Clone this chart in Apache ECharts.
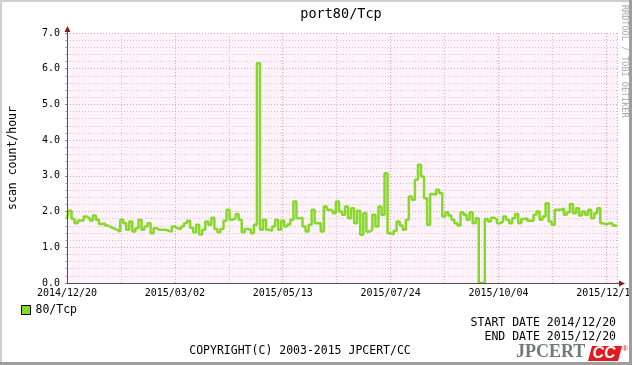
<!DOCTYPE html>
<html>
<head>
<meta charset="utf-8">
<script src="https://cdn.jsdelivr.net/npm/echarts@6/dist/echarts.min.js"></script>
<style>html,body{margin:0;padding:0;background:#fff;}#c{width:632px;height:365px;}</style>
</head>
<body>
<div id="c"></div>
<script>
// ---- data ----
const titleText = 'port80/Tcp';
const yAxisName = 'scan count/hour';
const seriesName = '80/Tcp';
const stepDays = 2; // sample spacing in days
const xTickLabels = ['2014/12/20', '2015/03/02', '2015/05/13', '2015/07/24', '2015/10/04', '2015/12/14'];
const xTickSpacingDays = 71;
const yTicks = ['0.0', '1.0', '2.0', '3.0', '4.0', '5.0', '6.0', '7.0'];
const values = [
  1.81, 2.02, 1.79, 1.67, 1.75, 1.75, 1.86, 1.81, 1.75, 1.89,
  1.77, 1.65, 1.67, 1.61, 1.56, 1.53, 1.49, 1.44, 1.77, 1.67,
  1.49, 1.72, 1.44, 1.53, 1.77, 1.49, 1.58, 1.67, 1.39, 1.53,
  1.49, 1.49, 1.49, 1.46, 1.44, 1.58, 1.53, 1.51, 1.58, 1.67,
  1.74, 1.55, 1.42, 1.63, 1.36, 1.49, 1.72, 1.63, 1.83, 1.51,
  1.42, 1.51, 1.74, 2.05, 1.77, 1.81, 1.93, 1.77, 1.42, 1.51,
  1.50, 1.39, 1.63, 6.15, 1.49, 1.77, 1.49, 1.46, 1.58, 1.77,
  1.49, 1.74, 1.58, 1.64, 1.77, 2.28, 1.81, 1.83, 1.58, 1.44,
  1.63, 2.05, 1.67, 1.67, 1.44, 2.14, 2.05, 2.02, 1.95, 2.28,
  2.00, 1.91, 2.14, 1.81, 2.09, 1.67, 2.02, 1.35, 1.95, 1.44,
  1.49, 1.91, 1.58, 2.14, 1.91, 3.07, 1.39, 1.36, 1.46, 1.72,
  1.61, 1.49, 1.77, 2.42, 2.33, 2.89, 3.31, 2.98, 2.37, 1.63,
  2.49, 2.47, 2.61, 2.51, 1.86, 1.98, 1.89, 1.77, 1.67, 1.61,
  1.98, 1.91, 1.77, 1.98, 1.67, 1.81, 0.00, 0.00, 1.79, 1.72,
  1.83, 1.79, 1.67, 1.72, 1.86, 1.77, 1.67, 1.81, 1.93, 1.67,
  1.79, 1.81, 1.74, 1.74, 1.91, 2.00, 1.77, 1.86, 2.23, 1.72,
  1.63, 2.05, 2.05, 2.09, 1.91, 1.98, 2.21, 1.95, 2.09, 1.89,
  2.00, 1.91, 2.05, 1.81, 1.95, 2.09, 1.67, 1.64, 1.67, 1.67,
  1.61, 1.58
];
const startDate = '2014/12/20';
const endDate = '2015/12/20';
const copyright = 'COPYRIGHT(C) 2003-2015 JPCERT/CC';
const sideText = 'RRDTOOL / TOBI OETIKER';

// ---- chart ----
const mono = 'DejaVu Sans Mono';
const lineColor = '#88D82A';
const pts = values.map((v, i) => [i * stepDays, v]);

const chart = echarts.init(document.getElementById('c'), null, {renderer: 'canvas'});
chart.setOption({
  animation: false,
  backgroundColor: '#ffffff',
  grid: {left: 67, top: 33, width: 550, height: 250, show: true, backgroundColor: '#FFF3FB', borderWidth: 0,
    containLabel: false, outerBoundsMode: 'none'},
  legend: {
    left: 16, top: 299, orient: 'horizontal',
    itemWidth: 9, itemHeight: 9, itemGap: 10,
    icon: 'rect',
    textStyle: {fontFamily: mono, fontSize: 11.5, color: '#000'},
    itemStyle: {borderColor: '#000', borderWidth: 1, color: lineColor},
    data: [seriesName]
  },
  xAxis: {
    type: 'value', min: 0, max: 362, interval: xTickSpacingDays,
    axisLine: {show: true, lineStyle: {color: '#505050', width: 1}},
    axisTick: {show: false},
    axisLabel: {
      showMaxLabel: false, hideOverlap: false, fontFamily: mono, fontSize: 10, color: '#000', margin: 5,
      formatter: v => xTickLabels[Math.round(v / xTickSpacingDays)] || ''
    },
    splitLine: {show: true, lineStyle: {color: '#E6A0B4', type: [1, 2], width: 1}},
    minorTick: {show: false, splitNumber: 2},
    minorSplitLine: {show: true, lineStyle: {color: '#D4BCC8', type: [1, 2], width: 1}}
  },
  yAxis: {
    type: 'value', min: 0, max: 7, interval: 1,
    name: yAxisName, nameLocation: 'middle', nameGap: 48, nameRotate: 90,
    nameTextStyle: {fontFamily: mono, fontSize: 11.5, color: '#000'},
    axisLine: {show: true, lineStyle: {color: '#505050', width: 1}},
    axisTick: {show: true, length: 2, lineStyle: {color: '#C07080'}},
    minorTick: {show: true, splitNumber: 5, length: 2, lineStyle: {color: '#C8B0B8'}},
    axisLabel: {fontFamily: mono, fontSize: 10, color: '#000', margin: 7,
      formatter: v => yTicks[Math.round(v)]},
    splitLine: {show: true, lineStyle: {color: '#E6A0B4', type: [1, 2], width: 1}},
    minorSplitLine: {show: true, lineStyle: {color: '#DDBFCD', type: [1, 2], width: 1}}
  },
  series: [{
    name: seriesName, type: 'line', step: 'middle', data: pts,
    showSymbol: false, symbol: 'none',
    lineStyle: {color: lineColor, width: 2.5},
    itemStyle: {color: lineColor},
    z: 5
  }],
  graphic: [
    {type: 'text', x: 341, y: 14, style: {text: titleText, font: '13.5px "DejaVu Sans Mono"', fill: '#000', align: 'center', verticalAlign: 'middle'}},
    {type: 'text', x: 624, y: 5, rotation: -Math.PI / 2, style: {text: sideText, font: '8.5px "DejaVu Sans Mono"', fill: '#A8A8A8', align: 'left', verticalAlign: 'middle'}},
    // axis arrows
    {type: 'line', shape: {x1: 67.5, y1: 283, x2: 67.5, y2: 29}, style: {stroke: '#505050', lineWidth: 1}, z: 10},
    {type: 'polygon', shape: {points: [[64.5, 32], [70.5, 32], [67.5, 26]]}, style: {fill: '#8B1A1A'}, z: 10},
    {type: 'line', shape: {x1: 67, y1: 283.5, x2: 621, y2: 283.5}, style: {stroke: '#505050', lineWidth: 1}, z: 10},
    {type: 'polygon', shape: {points: [[619, 280.5], [619, 286.5], [625, 283.5]]}, style: {fill: '#8B1A1A'}, z: 10},
    // bottom texts
    {type: 'text', x: 616, y: 323, style: {text: 'START DATE ' + startDate, font: '11.5px "DejaVu Sans Mono"', fill: '#000', align: 'right', verticalAlign: 'middle'}},
    {type: 'text', x: 616, y: 337, style: {text: 'END DATE ' + endDate, font: '11.5px "DejaVu Sans Mono"', fill: '#000', align: 'right', verticalAlign: 'middle'}},
    {type: 'text', x: 300, y: 351, style: {text: copyright, font: '11.5px "DejaVu Sans Mono"', fill: '#000', align: 'center', verticalAlign: 'middle'}},
    // JPCERT logo
    {type: 'text', x: 516, y: 361, style: {text: 'JPCERT', font: 'bold 18px "Liberation Serif"', fill: '#6F7B7B', align: 'left', verticalAlign: 'bottom'}},
    {type: 'polygon', shape: {points: [[592, 346], [622, 346], [618, 361], [588, 361]]}, style: {fill: '#E2191F'}},
    {type: 'text', x: 604, y: 354, style: {text: 'CC', font: 'italic bold 16px "Liberation Sans"', fill: '#fff', align: 'center', verticalAlign: 'middle'}},
    {type: 'text', x: 625, y: 349, style: {text: '®', font: '7px "Liberation Sans"', fill: '#E2191F', align: 'center', verticalAlign: 'middle'}},
    // frame
    {type: 'line', shape: {x1: 0, y1: 1, x2: 631, y2: 1}, style: {stroke: '#CFCFCF', lineWidth: 2}, z: 20},
    {type: 'line', shape: {x1: 1, y1: 0, x2: 1, y2: 364}, style: {stroke: '#CFCFCF', lineWidth: 2}, z: 20},
    {type: 'line', shape: {x1: 630.5, y1: 0, x2: 630.5, y2: 365}, style: {stroke: '#9E9E9E', lineWidth: 3}, z: 20},
    {type: 'line', shape: {x1: 0, y1: 363.5, x2: 632, y2: 363.5}, style: {stroke: '#9E9E9E', lineWidth: 3}, z: 20}
  ]
});
</script>
</body>
</html>
